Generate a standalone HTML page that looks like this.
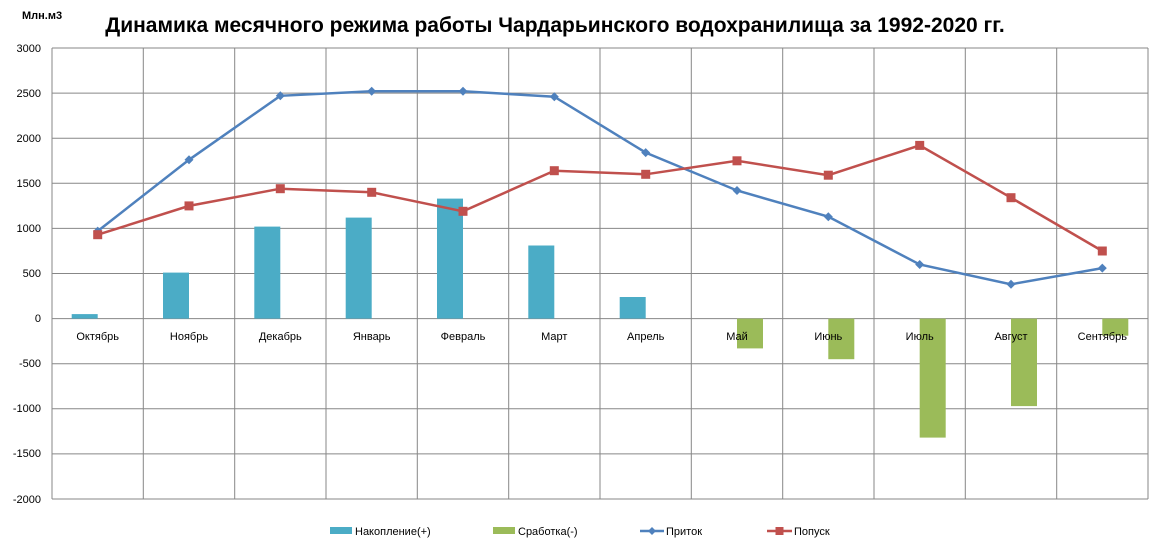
<!DOCTYPE html>
<html><head><meta charset="utf-8"><style>html,body{margin:0;padding:0;background:#fff}</style></head><body>
<svg width="1163" height="553" viewBox="0 0 1163 553" xmlns="http://www.w3.org/2000/svg" font-family="'Liberation Sans','DejaVu Sans',sans-serif">
<rect width="1163" height="553" fill="#fff"/>
<text x="22" y="19" font-size="11" font-weight="bold">Млн.м3</text>
<text x="555" y="32" font-size="21" font-weight="bold" text-anchor="middle">Динамика месячного режима работы Чардарьинского водохранилища за 1992-2020 гг.</text>
<g stroke="#878787" stroke-width="1">
<line x1="52" y1="48" x2="1148" y2="48"/><line x1="52" y1="93.1" x2="1148" y2="93.1"/><line x1="52" y1="138.2" x2="1148" y2="138.2"/><line x1="52" y1="183.3" x2="1148" y2="183.3"/><line x1="52" y1="228.4" x2="1148" y2="228.4"/><line x1="52" y1="273.5" x2="1148" y2="273.5"/><line x1="52" y1="318.6" x2="1148" y2="318.6"/><line x1="52" y1="363.7" x2="1148" y2="363.7"/><line x1="52" y1="408.8" x2="1148" y2="408.8"/><line x1="52" y1="453.9" x2="1148" y2="453.9"/><line x1="52" y1="499" x2="1148" y2="499"/>
<line x1="52" y1="48" x2="52" y2="499"/><line x1="143.3" y1="48" x2="143.3" y2="499"/><line x1="234.7" y1="48" x2="234.7" y2="499"/><line x1="326" y1="48" x2="326" y2="499"/><line x1="417.3" y1="48" x2="417.3" y2="499"/><line x1="508.7" y1="48" x2="508.7" y2="499"/><line x1="600" y1="48" x2="600" y2="499"/><line x1="691.3" y1="48" x2="691.3" y2="499"/><line x1="782.7" y1="48" x2="782.7" y2="499"/><line x1="874" y1="48" x2="874" y2="499"/><line x1="965.3" y1="48" x2="965.3" y2="499"/><line x1="1056.7" y1="48" x2="1056.7" y2="499"/><line x1="1148" y1="48" x2="1148" y2="499"/>
</g>
<g font-size="11" text-anchor="end">
<text x="41" y="52">3000</text><text x="41" y="97">2500</text><text x="41" y="142">2000</text><text x="41" y="187">1500</text><text x="41" y="232">1000</text><text x="41" y="277">500</text><text x="41" y="322">0</text><text x="41" y="367">-500</text><text x="41" y="412">-1000</text><text x="41" y="457">-1500</text><text x="41" y="503">-2000</text>
</g>
<g fill="#4bacc6">
<rect x="71.7" y="314.1" width="26" height="4.5"/><rect x="163" y="272.6" width="26" height="46"/><rect x="254.3" y="226.6" width="26" height="92"/><rect x="345.7" y="217.6" width="26" height="101"/><rect x="437" y="198.6" width="26" height="120"/><rect x="528.3" y="245.5" width="26" height="73.1"/><rect x="619.7" y="297" width="26" height="21.6"/>
</g>
<g fill="#9bbb59">
<rect x="737" y="318.6" width="26" height="29.8"/><rect x="828.3" y="318.6" width="26" height="40.6"/><rect x="919.7" y="318.6" width="26" height="119"/><rect x="1011" y="318.6" width="26" height="87.5"/><rect x="1102.3" y="318.6" width="26" height="17.1"/>
</g>
<g font-size="11" text-anchor="middle">
<text x="97.7" y="340">Октябрь</text><text x="189" y="340">Ноябрь</text><text x="280.3" y="340">Декабрь</text><text x="371.7" y="340">Январь</text><text x="463" y="340">Февраль</text><text x="554.3" y="340">Март</text><text x="645.7" y="340">Апрель</text><text x="737" y="340">Май</text><text x="828.3" y="340">Июнь</text><text x="919.7" y="340">Июль</text><text x="1011" y="340">Август</text><text x="1102.3" y="340">Сентябрь</text>
</g>
<polyline fill="none" stroke="#4f81bd" stroke-width="2.5" points="97.7,231.1 189,159.8 280.3,95.8 371.7,91.3 463,91.3 554.3,96.7 645.7,152.6 737,190.5 828.3,216.7 919.7,264.5 1011,284.3 1102.3,268.1"/>
<g fill="#4f81bd">
<path d="M97.7 226.6l4.5 4.5-4.5 4.5-4.5-4.5z"/><path d="M189 155.3l4.5 4.5-4.5 4.5-4.5-4.5z"/><path d="M280.3 91.3l4.5 4.5-4.5 4.5-4.5-4.5z"/><path d="M371.7 86.8l4.5 4.5-4.5 4.5-4.5-4.5z"/><path d="M463 86.8l4.5 4.5-4.5 4.5-4.5-4.5z"/><path d="M554.3 92.2l4.5 4.5-4.5 4.5-4.5-4.5z"/><path d="M645.7 148.1l4.5 4.5-4.5 4.5-4.5-4.5z"/><path d="M737 186l4.5 4.5-4.5 4.5-4.5-4.5z"/><path d="M828.3 212.2l4.5 4.5-4.5 4.5-4.5-4.5z"/><path d="M919.7 260l4.5 4.5-4.5 4.5-4.5-4.5z"/><path d="M1011 279.8l4.5 4.5-4.5 4.5-4.5-4.5z"/><path d="M1102.3 263.6l4.5 4.5-4.5 4.5-4.5-4.5z"/>
</g>
<polyline fill="none" stroke="#c0504d" stroke-width="2.5" points="97.7,234.7 189,205.9 280.3,188.7 371.7,192.3 463,211.3 554.3,170.7 645.7,174.3 737,160.8 828.3,175.2 919.7,145.4 1011,197.7 1102.3,251"/>
<g fill="#c0504d">
<rect x="93.2" y="230.2" width="9" height="9"/><rect x="184.5" y="201.4" width="9" height="9"/><rect x="275.8" y="184.2" width="9" height="9"/><rect x="367.2" y="187.8" width="9" height="9"/><rect x="458.5" y="206.8" width="9" height="9"/><rect x="549.8" y="166.2" width="9" height="9"/><rect x="641.2" y="169.8" width="9" height="9"/><rect x="732.5" y="156.3" width="9" height="9"/><rect x="823.8" y="170.7" width="9" height="9"/><rect x="915.2" y="140.9" width="9" height="9"/><rect x="1006.5" y="193.2" width="9" height="9"/><rect x="1097.8" y="246.5" width="9" height="9"/>
</g>
<rect x="330" y="527" width="22" height="7" fill="#4bacc6"/>
<text x="355" y="535" font-size="11">Накопление(+)</text>
<rect x="493" y="527" width="22" height="7" fill="#9bbb59"/>
<text x="518" y="535" font-size="11">Сработка(-)</text>
<line x1="640" y1="531" x2="664" y2="531" stroke="#4f81bd" stroke-width="2.5"/>
<path d="M652 527l4 4-4 4-4-4z" fill="#4f81bd"/>
<text x="666" y="535" font-size="11">Приток</text>
<line x1="767" y1="531" x2="792" y2="531" stroke="#c0504d" stroke-width="2.5"/>
<rect x="775.5" y="527" width="8" height="8" fill="#c0504d"/>
<text x="794" y="535" font-size="11">Попуск</text>
</svg>
</body></html>
